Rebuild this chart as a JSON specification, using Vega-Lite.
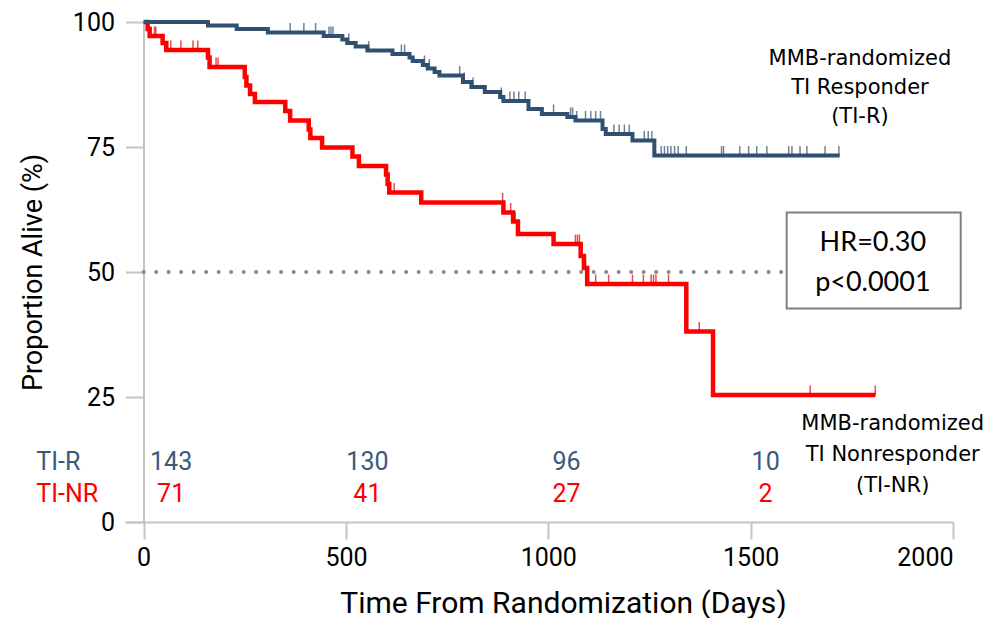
{
  "$schema": "https://vega.github.io/schema/vega-lite/v6.json",
  "autosize": "none",
  "width": 828,
  "height": 500,
  "padding": {"left": 125, "top": 22, "right": 45, "bottom": 96},
  "background": "white",
  "config": {"view": {"stroke": null}},
  "datasets": {
    "surv": [
      {"group": "TI-R", "day": 0, "pct": 100}, {"group": "TI-R", "day": 159, "pct": 99.3}, {"group": "TI-R", "day": 230, "pct": 98.6}, {"group": "TI-R", "day": 307, "pct": 97.9}, {"group": "TI-R", "day": 445, "pct": 97.2}, {"group": "TI-R", "day": 491, "pct": 96.5}, {"group": "TI-R", "day": 503, "pct": 95.8}, {"group": "TI-R", "day": 524, "pct": 95.1}, {"group": "TI-R", "day": 553, "pct": 94.3}, {"group": "TI-R", "day": 615, "pct": 93.6}, {"group": "TI-R", "day": 657, "pct": 92.9}, {"group": "TI-R", "day": 665, "pct": 92.2}, {"group": "TI-R", "day": 690, "pct": 91.4}, {"group": "TI-R", "day": 702, "pct": 90.7}, {"group": "TI-R", "day": 719, "pct": 90.0}, {"group": "TI-R", "day": 731, "pct": 89.3}, {"group": "TI-R", "day": 789, "pct": 88.0}, {"group": "TI-R", "day": 810, "pct": 87.0}, {"group": "TI-R", "day": 843, "pct": 86.0}, {"group": "TI-R", "day": 881, "pct": 85.0}, {"group": "TI-R", "day": 889, "pct": 84.2}, {"group": "TI-R", "day": 951, "pct": 82.6}, {"group": "TI-R", "day": 984, "pct": 81.6}, {"group": "TI-R", "day": 1047, "pct": 81.0}, {"group": "TI-R", "day": 1067, "pct": 80.3}, {"group": "TI-R", "day": 1134, "pct": 78.6}, {"group": "TI-R", "day": 1142, "pct": 77.6}, {"group": "TI-R", "day": 1208, "pct": 76.3}, {"group": "TI-R", "day": 1262, "pct": 73.3}, {"group": "TI-R", "day": 1720, "pct": 73.3},
      {"group": "TI-NR", "day": 0, "pct": 100}, {"group": "TI-NR", "day": 10, "pct": 98.6}, {"group": "TI-NR", "day": 15, "pct": 97.2}, {"group": "TI-NR", "day": 47, "pct": 95.8}, {"group": "TI-NR", "day": 56, "pct": 94.4}, {"group": "TI-NR", "day": 159, "pct": 92.9}, {"group": "TI-NR", "day": 163, "pct": 91.0}, {"group": "TI-NR", "day": 250, "pct": 89.0}, {"group": "TI-NR", "day": 254, "pct": 87.3}, {"group": "TI-NR", "day": 263, "pct": 85.6}, {"group": "TI-NR", "day": 275, "pct": 84.0}, {"group": "TI-NR", "day": 350, "pct": 82.2}, {"group": "TI-NR", "day": 362, "pct": 80.3}, {"group": "TI-NR", "day": 408, "pct": 78.5}, {"group": "TI-NR", "day": 412, "pct": 76.8}, {"group": "TI-NR", "day": 441, "pct": 74.9}, {"group": "TI-NR", "day": 516, "pct": 73.1}, {"group": "TI-NR", "day": 532, "pct": 71.2}, {"group": "TI-NR", "day": 599, "pct": 69.5}, {"group": "TI-NR", "day": 603, "pct": 67.6}, {"group": "TI-NR", "day": 607, "pct": 65.9}, {"group": "TI-NR", "day": 686, "pct": 63.9}, {"group": "TI-NR", "day": 889, "pct": 61.9}, {"group": "TI-NR", "day": 913, "pct": 60.1}, {"group": "TI-NR", "day": 925, "pct": 57.6}, {"group": "TI-NR", "day": 1013, "pct": 55.6}, {"group": "TI-NR", "day": 1080, "pct": 53.2}, {"group": "TI-NR", "day": 1088, "pct": 50.8}, {"group": "TI-NR", "day": 1096, "pct": 47.6}, {"group": "TI-NR", "day": 1341, "pct": 38.1}, {"group": "TI-NR", "day": 1407, "pct": 25.4}, {"group": "TI-NR", "day": 1808, "pct": 25.4}
    ],
    "censor": [
      {"group": "TI-R", "day": 362, "pct": 97.9}, {"group": "TI-R", "day": 396, "pct": 97.9}, {"group": "TI-R", "day": 425, "pct": 97.9}, {"group": "TI-R", "day": 458, "pct": 97.2}, {"group": "TI-R", "day": 463, "pct": 97.2}, {"group": "TI-R", "day": 468, "pct": 97.2}, {"group": "TI-R", "day": 507, "pct": 95.8}, {"group": "TI-R", "day": 556, "pct": 94.3}, {"group": "TI-R", "day": 637, "pct": 93.6}, {"group": "TI-R", "day": 645, "pct": 93.6}, {"group": "TI-R", "day": 694, "pct": 91.4}, {"group": "TI-R", "day": 706, "pct": 90.7}, {"group": "TI-R", "day": 781, "pct": 89.3}, {"group": "TI-R", "day": 792, "pct": 88.0}, {"group": "TI-R", "day": 814, "pct": 87.0}, {"group": "TI-R", "day": 884, "pct": 85.0}, {"group": "TI-R", "day": 905, "pct": 84.2}, {"group": "TI-R", "day": 915, "pct": 84.2}, {"group": "TI-R", "day": 927, "pct": 84.2}, {"group": "TI-R", "day": 943, "pct": 84.2}, {"group": "TI-R", "day": 1013, "pct": 81.6}, {"group": "TI-R", "day": 1055, "pct": 81.0}, {"group": "TI-R", "day": 1060, "pct": 81.0}, {"group": "TI-R", "day": 1070, "pct": 80.3}, {"group": "TI-R", "day": 1092, "pct": 80.3}, {"group": "TI-R", "day": 1105, "pct": 80.3}, {"group": "TI-R", "day": 1117, "pct": 80.3}, {"group": "TI-R", "day": 1129, "pct": 80.3}, {"group": "TI-R", "day": 1162, "pct": 77.6}, {"group": "TI-R", "day": 1175, "pct": 77.6}, {"group": "TI-R", "day": 1188, "pct": 77.6}, {"group": "TI-R", "day": 1200, "pct": 77.6}, {"group": "TI-R", "day": 1237, "pct": 76.3}, {"group": "TI-R", "day": 1247, "pct": 76.3}, {"group": "TI-R", "day": 1256, "pct": 76.3}, {"group": "TI-R", "day": 1279, "pct": 73.3}, {"group": "TI-R", "day": 1287, "pct": 73.3}, {"group": "TI-R", "day": 1295, "pct": 73.3}, {"group": "TI-R", "day": 1303, "pct": 73.3}, {"group": "TI-R", "day": 1312, "pct": 73.3}, {"group": "TI-R", "day": 1321, "pct": 73.3}, {"group": "TI-R", "day": 1341, "pct": 73.3}, {"group": "TI-R", "day": 1428, "pct": 73.3}, {"group": "TI-R", "day": 1433, "pct": 73.3}, {"group": "TI-R", "day": 1473, "pct": 73.3}, {"group": "TI-R", "day": 1495, "pct": 73.3}, {"group": "TI-R", "day": 1515, "pct": 73.3}, {"group": "TI-R", "day": 1540, "pct": 73.3}, {"group": "TI-R", "day": 1594, "pct": 73.3}, {"group": "TI-R", "day": 1602, "pct": 73.3}, {"group": "TI-R", "day": 1622, "pct": 73.3}, {"group": "TI-R", "day": 1639, "pct": 73.3}, {"group": "TI-R", "day": 1684, "pct": 73.3}, {"group": "TI-R", "day": 1718, "pct": 73.3},
      {"group": "TI-NR", "day": 27, "pct": 97.2}, {"group": "TI-NR", "day": 30, "pct": 97.2}, {"group": "TI-NR", "day": 67, "pct": 94.4}, {"group": "TI-NR", "day": 92, "pct": 94.4}, {"group": "TI-NR", "day": 122, "pct": 94.4}, {"group": "TI-NR", "day": 134, "pct": 94.4}, {"group": "TI-NR", "day": 179, "pct": 91.0}, {"group": "TI-NR", "day": 184, "pct": 91.0}, {"group": "TI-NR", "day": 619, "pct": 65.9}, {"group": "TI-NR", "day": 887, "pct": 63.9}, {"group": "TI-NR", "day": 907, "pct": 61.9}, {"group": "TI-NR", "day": 918, "pct": 60.1}, {"group": "TI-NR", "day": 1067, "pct": 55.6}, {"group": "TI-NR", "day": 1072, "pct": 55.6}, {"group": "TI-NR", "day": 1077, "pct": 55.6}, {"group": "TI-NR", "day": 1092, "pct": 50.8}, {"group": "TI-NR", "day": 1117, "pct": 47.6}, {"group": "TI-NR", "day": 1149, "pct": 47.6}, {"group": "TI-NR", "day": 1208, "pct": 47.6}, {"group": "TI-NR", "day": 1235, "pct": 47.6}, {"group": "TI-NR", "day": 1254, "pct": 47.6}, {"group": "TI-NR", "day": 1260, "pct": 47.6}, {"group": "TI-NR", "day": 1266, "pct": 47.6}, {"group": "TI-NR", "day": 1297, "pct": 47.6}, {"group": "TI-NR", "day": 1373, "pct": 38.1}, {"group": "TI-NR", "day": 1647, "pct": 25.4}, {"group": "TI-NR", "day": 1808, "pct": 25.4}
    ],
    "atrisk": [
      {"group": "TI-R", "day": 68, "pct": 12.0, "label": "143"}, {"group": "TI-R", "day": 553, "pct": 12.0, "label": "130"}, {"group": "TI-R", "day": 1045, "pct": 12.0, "label": "96"}, {"group": "TI-R", "day": 1537, "pct": 12.0, "label": "10"},
      {"group": "TI-NR", "day": 68, "pct": 5.6, "label": "71"}, {"group": "TI-NR", "day": 553, "pct": 5.6, "label": "41"}, {"group": "TI-NR", "day": 1045, "pct": 5.6, "label": "27"}, {"group": "TI-NR", "day": 1537, "pct": 5.6, "label": "2"}
    ],
    "rowlabels": [
      {"group": "TI-R", "day": -265, "pct": 12.0, "label": "TI-R"},
      {"group": "TI-NR", "day": -265, "pct": 5.6, "label": "TI-NR"}
    ],
    "notes": [
      {"day": 1770, "pct": 92.7, "label": "MMB-randomized"},
      {"day": 1770, "pct": 86.9, "label": "TI Responder"},
      {"day": 1770, "pct": 81.1, "label": "(TI-R)"},
      {"day": 1851, "pct": 19.6, "label": "MMB-randomized"},
      {"day": 1851, "pct": 13.4, "label": "TI Nonresponder"},
      {"day": 1851, "pct": 7.2, "label": "(TI-NR)"}
    ],
    "hrbox": [{"x1": 1589, "x2": 2019, "y1": 61.9, "y2": 42.7}],
    "hrtext": [
      {"day": 1802, "pct": 55.8, "label": "HR=0.30"},
      {"day": 1802, "pct": 47.8, "label": "p<0.0001"}
    ]
  },
  "layer": [
    {
      "data": {"values": [{}]},
      "mark": {"type": "rule", "color": "#8a8a8a", "strokeWidth": 4, "strokeDash": [0.1, 12.4], "strokeCap": "round"},
      "encoding": {
        "y": {"datum": 50, "type": "quantitative", "scale": {"domain": [0, 100], "nice": false, "zero": false},
          "axis": {"values": [0, 25, 50, 75, 100], "offset": -18.5, "tickSize": 18, "tickWidth": 2, "tickColor": "#c4c4c4", "domainColor": "#c4c4c4", "domainWidth": 2, "grid": false,
            "labelFont": "Roboto", "labelFontSize": 25, "labelColor": "#000000", "labelPadding": 11,
            "title": "Proportion Alive (%)", "titleFont": "Roboto", "titleFontSize": 27, "titleFontWeight": "normal", "titleColor": "#000000", "titleX": -110, "titleY": 250, "titleBaseline": "middle", "titleAlign": "center", "titleAngle": -90}},
        "x": {"datum": 0, "type": "quantitative", "scale": {"domain": [-46, 2000], "nice": false, "zero": false},
          "axis": {"values": [0, 500, 1000, 1500, 2000], "format": "d", "tickSize": 17, "tickWidth": 2, "tickColor": "#c4c4c4", "domainColor": "#c4c4c4", "domainWidth": 2, "grid": false,
            "labelFont": "Roboto", "labelFontSize": 25, "labelColor": "#000000", "labelPadding": 6,
            "title": "Time From Randomization (Days)", "titleFont": "Roboto", "titleFontSize": 30, "titleFontWeight": "normal", "titleColor": "#000000", "titleX": 438, "titleY": 81, "titleBaseline": "middle", "titleAlign": "center"}},
        "x2": {"datum": 1990}
      }
    },
    {
      "data": {"name": "surv"},
      "transform": [{"filter": "datum.group === 'TI-NR'"}],
      "mark": {"type": "line", "interpolate": "step-after", "color": "#ff0000", "strokeWidth": 4.5},
      "encoding": {"x": {"field": "day", "type": "quantitative"}, "y": {"field": "pct", "type": "quantitative"}}
    },
    {
      "data": {"name": "surv"},
      "transform": [{"filter": "datum.group === 'TI-R'"}],
      "mark": {"type": "line", "interpolate": "step-after", "color": "#2f5070", "strokeWidth": 4},
      "encoding": {"x": {"field": "day", "type": "quantitative"}, "y": {"field": "pct", "type": "quantitative"}}
    },
    {
      "data": {"name": "censor"},
      "mark": {"type": "tick", "orient": "vertical", "size": 10, "thickness": 1.5, "yOffset": -4.5},
      "encoding": {
        "x": {"field": "day", "type": "quantitative"},
        "y": {"field": "pct", "type": "quantitative"},
        "color": {"field": "group", "type": "nominal", "scale": {"domain": ["TI-R", "TI-NR"], "range": ["#2f5070", "#e00000"]}, "legend": null}
      }
    },
    {
      "data": {"name": "hrbox"},
      "mark": {"type": "rect", "fill": "white", "stroke": "#808080", "strokeWidth": 2},
      "encoding": {
        "x": {"field": "x1", "type": "quantitative"}, "x2": {"field": "x2"},
        "y": {"field": "y1", "type": "quantitative"}, "y2": {"field": "y2"}
      }
    },
    {
      "data": {"name": "hrtext"},
      "mark": {"type": "text", "font": "Lato", "fontSize": 27, "color": "#000000", "align": "center", "baseline": "middle"},
      "encoding": {"x": {"field": "day", "type": "quantitative"}, "y": {"field": "pct", "type": "quantitative"}, "text": {"field": "label"}}
    },
    {
      "data": {"name": "notes"},
      "mark": {"type": "text", "font": "DejaVu Sans", "fontSize": 21, "color": "#000000", "align": "center", "baseline": "middle"},
      "encoding": {"x": {"field": "day", "type": "quantitative"}, "y": {"field": "pct", "type": "quantitative"}, "text": {"field": "label"}}
    },
    {
      "data": {"name": "atrisk"},
      "mark": {"type": "text", "font": "Roboto", "fontSize": 25, "align": "center", "baseline": "middle"},
      "encoding": {
        "x": {"field": "day", "type": "quantitative"}, "y": {"field": "pct", "type": "quantitative"}, "text": {"field": "label"},
        "color": {"field": "group", "type": "nominal", "scale": {"domain": ["TI-R", "TI-NR"], "range": ["#3a5a7a", "#ff0000"]}, "legend": null}
      }
    },
    {
      "data": {"name": "rowlabels"},
      "mark": {"type": "text", "font": "Roboto", "fontSize": 25, "align": "left", "baseline": "middle"},
      "encoding": {
        "x": {"field": "day", "type": "quantitative"}, "y": {"field": "pct", "type": "quantitative"}, "text": {"field": "label"},
        "color": {"field": "group", "type": "nominal", "scale": {"domain": ["TI-R", "TI-NR"], "range": ["#3a5a7a", "#ff0000"]}, "legend": null}
      }
    }
  ],
  "resolve": {"scale": {"color": "independent"}}
}
